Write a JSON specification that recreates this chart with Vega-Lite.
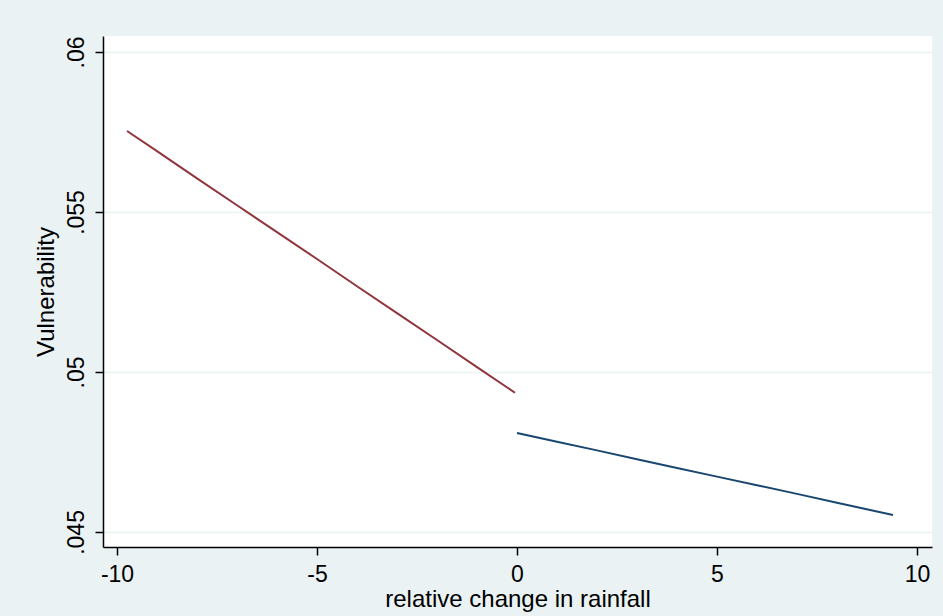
{
  "$schema": "https://vega.github.io/schema/vega-lite/v6.json",
  "autosize": "none",
  "width": 829,
  "height": 511,
  "padding": {"left": 103, "top": 36, "right": 11, "bottom": 69},
  "background": "#EAF2F3",
  "config": {
    "view": {"fill": "white", "stroke": null},
    "font": "Liberation Sans",
    "axis": {
      "labelFont": "Liberation Sans",
      "titleFont": "Liberation Sans",
      "labelColor": "#000000",
      "titleColor": "#000000",
      "titleFontWeight": "normal",
      "domainColor": "#000000",
      "domainWidth": 1.5,
      "tickColor": "#000000",
      "tickWidth": 1.5,
      "tickSize": 8,
      "labelFontSize": 23,
      "titleFontSize": 24
    }
  },
  "data": {
    "values": [
      {"x": -9.75, "y": 0.05753, "s": "below"},
      {"x": -9, "y": 0.05690, "s": "below"},
      {"x": -8, "y": 0.05605, "s": "below"},
      {"x": -7, "y": 0.05521, "s": "below"},
      {"x": -6, "y": 0.05437, "s": "below"},
      {"x": -5, "y": 0.05353, "s": "below"},
      {"x": -4, "y": 0.05268, "s": "below"},
      {"x": -3, "y": 0.05184, "s": "below"},
      {"x": -2, "y": 0.05100, "s": "below"},
      {"x": -1, "y": 0.05015, "s": "below"},
      {"x": -0.05, "y": 0.04935, "s": "below"},
      {"x": 0, "y": 0.04809, "s": "above"},
      {"x": 1, "y": 0.04782, "s": "above"},
      {"x": 2, "y": 0.04755, "s": "above"},
      {"x": 3, "y": 0.04727, "s": "above"},
      {"x": 4, "y": 0.04700, "s": "above"},
      {"x": 5, "y": 0.04673, "s": "above"},
      {"x": 6, "y": 0.04646, "s": "above"},
      {"x": 7, "y": 0.04619, "s": "above"},
      {"x": 8, "y": 0.04591, "s": "above"},
      {"x": 9, "y": 0.04564, "s": "above"},
      {"x": 9.4, "y": 0.04553, "s": "above"}
    ]
  },
  "mark": {"type": "line", "strokeWidth": 2, "clip": true},
  "encoding": {
    "x": {
      "field": "x",
      "type": "quantitative",
      "scale": {"domain": [-10.35, 10.375], "nice": false, "zero": false},
      "axis": {
        "values": [-10, -5, 0, 5, 10],
        "labelExpr": "'' + datum.value",
        "grid": false,
        "title": "relative change in rainfall",
        "labelBaseline": "alphabetic",
        "labelPadding": 26,
        "labelFlush": false,
        "labelOverlap": false,
        "titleBaseline": "alphabetic",
        "titleY": 59,
        "titleX": 414.5,
        "titleAlign": "center"
      }
    },
    "y": {
      "field": "y",
      "type": "quantitative",
      "scale": {"domain": [0.04453, 0.0605], "nice": false, "zero": false},
      "axis": {
        "values": [0.045, 0.05, 0.055, 0.06],
        "labelExpr": "replace(format(datum.value, '.3~f'), /^0/, '')",
        "grid": true,
        "gridColor": "#EAF2F3",
        "gridWidth": 1.5,
        "labelAngle": 270,
        "labelAlign": "center",
        "labelBaseline": "alphabetic",
        "labelPadding": 12,
        "labelFlush": false,
        "labelOverlap": false,
        "title": "Vulnerability",
        "titleAngle": 270,
        "titleAlign": "center",
        "titleBaseline": "alphabetic",
        "titleX": -50,
        "titleY": 255.5
      }
    },
    "color": {
      "field": "s",
      "type": "nominal",
      "scale": {"domain": ["below", "above"], "range": ["#90353B", "#1A476F"]},
      "legend": null
    }
  }
}
